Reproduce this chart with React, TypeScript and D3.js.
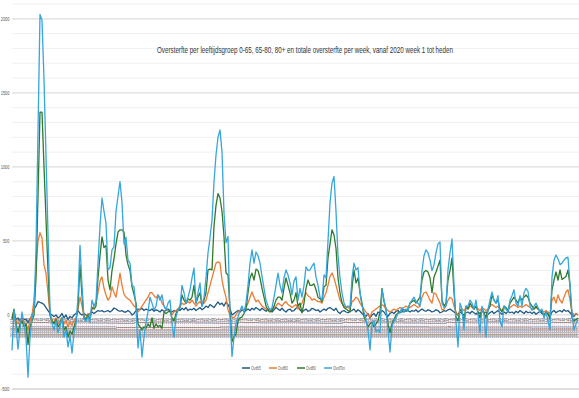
import React from "react";
import * as d3 from "d3";

const TITLE = "Oversterfte per leeftijdsgroep 0-65, 65-80, 80+ en totale oversterfte per week, vanaf 2020 week 1 tot heden";
const YEARS = [2020, 2021, 2022, 2023, 2024, 2025];
const WEEKS_PER_YEAR = [53, 52, 52, 52, 52, 23];
const Y_TICKS = [-500, 0, 500, 1000, 1500, 2000];
const SERIES_NAMES = ["Ovd65", "Ovd80", "Ovd80", "OvdTot"];
const SERIES_COLORS = ["#1f5a85", "#ef7b33", "#2f7a2c", "#36a6de"];

const ovd65 = [
  -20, 10, -30, -20, -40, -20, -30, -30, -50, -30,
  0, 40, 60, 90, 85, 80, 70, 50, 30, 10,
  0, -10, 0, -20, -10, 10, -20, 0, -30, -10,
  -20, 0, 10, 30, 10, 0, 10, 0, -10, 10,
  20, 10, 20, 30, 25, 30, 20, 25, 30, 20,
  30, 47, 40, 30, 25, 30, 20, 20, 30, 20,
  0, 10, 30, 40, 35, 45, 30, 40, 35, 30,
  40, 25, 35, 30, 20, 35, 25, 30, 40, 30,
  20, 30, 25, 40, 30, 45, 35, 50, 30, 40,
  35, 45, 30, 40, 50, 35, 45, 60, 50, 70,
  60, 50, 70, 88, 70, 80, 60, 88, 70, 40,
  0, 10, 20, 30, 20, 35, 25, 30, 40, 30,
  45, 35, 50, 40, 30, 45, 35, 25, 40, 30,
  20, 35, 50, 40, 30, 45, 30, 20, 35, 40,
  25, 30, 45, 54, 35, 20, 30, 40, 25, 30,
  45, 40, 30, 35, 20, 30, 40, 30, 45, 50,
  40, 30, 45, 20, 10, 25, 30, 20, 15, 25,
  30, 40, 20, 35, 25, 10, 0, -10, 10, -20,
  0, 10, -10, 20, 10, 30, 20, 0, -10, 10,
  20, 10, 25, 30, 15, 20, 35, 25, 30, 20,
  30, 25, 35, 20, 30, 40, 30, 25, 35, 30,
  20, 25, 35, 30, 15, 20, 30, 25, 35, 40,
  30, 20, 10, 0, 20, 10, 0, 15, 20, 10,
  25, 15, 5, 20, 10, 25, 15, 20, 5, 15,
  25, 10, 20, 30, 15, 5, 20, 10, 25, 15,
  20, 10, 25, 15, 30, 20, 10, 25, 15, 20,
  10, 20, 5, 15, 25, 10, 0, 15, 5, -10,
  20, 30, 15, 25, 30, 20, 35, 25, 30, 15,
  0, -10, 10, 0,
];

const ovd80 = [
  -10, 30, -40, -60, -40, -30, -50, -60, -100, -40,
  0, 100, 300, 500, 555, 520, 340, 280, 150, 0,
  -40, -50, -20, -60, -40, -20, -60, -40, -80, -50,
  -70, -40, -20, 40, 120, 60, -10, -20, 10, 0,
  40, 60, 80, 150, 230, 257, 180, 135, 100, 120,
  190, 150, 120, 200, 283, 200, 140, 120, 110, 100,
  80, 60, 50, 20, 40, 60, 80, 100, 120, 150,
  150, 130, 115, 135, 120, 80, 60, 40, 30, 20,
  0, 20, 30, 40, 60, 80, 70, 80, 90, 80,
  100, 80, 60, 80, 90, 70, 80, 100, 150, 200,
  250, 300, 350, 360, 350, 236, 170, 120, 34, 0,
  -14, -20, 0, 20, 30, 40, 30, 50, 80, 120,
  155, 120, 90, 100, 80, 60, 50, 40, 30, 30,
  40, 50, 60, 80, 70, 60, 80, 90, 70, 60,
  50, 60, 70, 40, 60, 80, 120, 150, 130, 120,
  100, 110, 100, 90, 90, 80, 120, 150, 200, 260,
  283, 250, 200, 150, 100, 80, 60, 50, 50, 40,
  90, 100, 120, 110, 80, 60, 40, 20, 0, -14,
  20, 30, 40, 50, 60, 70, 60, 40, 30, 20,
  30, 40, 30, 40, 50, 40, 50, 60, 50, 50,
  60, 70, 60, 50, 60, 120, 150, 155, 130, 100,
  80, 150, 140, 110, 80, 34, 40, 60, 100, 120,
  110, 60, 20, 0, 30, 40, 30, 50, 40, 60,
  50, 40, 60, 40, 30, 50, 40, 30, 40, 60,
  70, 60, 50, 60, 40, 30, 50, 40, 30, 50,
  60, 70, 60, 50, 60, 50, 60, 70, 60, 50,
  40, 40, 50, 40, 30, 30, 20, 30, 20, 10,
  100, 120, 80, 135, 100, 80, 120, 155, 170, 100,
  20, 0, 10, 0,
];

const ovd80plus = [
  -30, 40, -60, -120, -60, -40, -80, -60, -200, -80,
  -40, 0, 250, 800, 1370, 1370, 1000, 650, 300, 0,
  -40, -60, -30, -80, -60, -20, -100, -80, -150, -110,
  -130, -80, -40, 60, 338, 130, -20, -30, 0, -30,
  50, 40, 60, 250, 400, 527, 455, 470, 237, 170,
  300, 380, 480, 560, 575, 575, 560, 405, 340, 300,
  190, 140, 80, -60, -80, -100, -80, -90, -60, -80,
  -20, -90, -60, -80, -70, -90, 20, 10, 20, 30,
  -20, -40, 10, 30, 50, 135, 100, 80, 110, 100,
  120, 200, 80, 120, 150, 60, 100, 150, 304, 310,
  304, 600, 740, 820, 790, 700, 530, 283, 270, 34,
  -180, -150, -130, -40, -20, -14, 10, 40, 150, 250,
  283, 236, 310, 300, 250, 180, 120, 60, 30, 20,
  30, 60, 100, 120, 120, 100, 180, 250, 200, 150,
  80, 100, 150, 60, 80, 14, 80, 180, 236, 200,
  200, 210, 170, 120, 110, 90, 190, 200, 385, 480,
  575, 540, 450, 250, 150, 80, 50, 40, 30, 20,
  180, 304, 216, 250, 150, 80, -14, -40, -80, -60,
  -50, -80, -60, -40, 20, 180, 90, 40, -60, -120,
  -60, -30, 0, 14, 20, 40, 20, 30, 40, 80,
  90, 100, 80, 100, 120, 236, 290, 300, 290, 250,
  150, 257, 290, 330, 370, 100, 60, 80, 236, 300,
  385, 150, -14, -40, 40, 20, -40, 60, 40, 80,
  60, 40, 60, 20, -20, 40, 20, -20, 30, 60,
  135, 100, 80, 100, 40, 20, 60, 50, 30, 80,
  100, 120, 100, 80, 120, 100, 120, 135, 120, 80,
  60, 40, 60, 40, 30, 20, 0, 20, 10, -30,
  170, 236, 290, 236, 304, 240, 250, 260, 304, 200,
  -20, -40, -30, -20,
];

const ovdTot = [
  -240, 30, -80, -230, -100, 20, -60, -150, -420, -150,
  -20, 40, 440, 1240, 2030, 1990, 1590, 1070, 550, 30,
  -60, -100, -40, -120, -80, -20, -150, -100, -216, -140,
  -257, -120, -60, 120, 470, 200, -30, -40, -10, -50,
  100, 60, 90, 350, 600, 790, 700, 620, 304, 320,
  440, 460, 700, 800, 900, 760, 480, 525, 370, 350,
  200, 190, 50, -223, -100, -284, -150, -50, 20, 120,
  80, 34, 60, 135, 100, 135, 60, 34, 80, 100,
  -60, -150, -14, 34, 60, 200, 150, 80, 120, 170,
  250, 317, 80, 150, 216, 60, 120, 250, 420, 520,
  640, 900, 1080, 1200, 1250, 1100, 690, 487, 530, -14,
  -280, -150, -60, -14, 30, 60, 20, 80, 200, 350,
  440, 350, 425, 400, 350, 260, 180, 100, 60, 34,
  50, 120, 200, 283, 200, 150, 250, 304, 270, 216,
  135, 230, 257, 100, 180, 120, 200, 325, 300, 304,
  330, 350, 257, 200, 120, 100, 270, 250, 500, 757,
  890, 935, 700, 400, 250, 150, 80, 54, 60, 54,
  250, 350, 304, 320, 150, 60, 20, -34, -100, -236,
  -60, -40, -115, -100, -120, 170, 100, 40, -100, -250,
  -80, -40, -20, 10, 14, 50, 20, 40, 30, 80,
  100, 120, 90, 80, 60, 300, 400, 440, 420, 370,
  300, 338, 420, 480, 493, 80, 50, 60, 304, 420,
  513, 200, -50, -216, 80, 40, -100, 60, 60, 100,
  80, 40, 100, 0, -120, 60, 0, -150, 40, 100,
  155, 100, 80, 130, -40, -80, 60, 40, 20, 100,
  130, 170, 80, 60, 130, 60, 150, 180, 160, 60,
  30, 60, 80, 50, 20, 40, -20, 20, -40, -100,
  257, 370, 405, 380, 340, 350, 370, 385, 390, 200,
  14, -100, -60, -30,
];

const SERIES = [ovd65, ovd80, ovd80plus, ovdTot];

const WEEK_LABELS: string[] = [];
YEARS.forEach((yr, k) => {
  for (let w = 1; w <= WEEKS_PER_YEAR[k]; w++) {
    WEEK_LABELS.push(`${yr}-${String(w).padStart(2, "0")}`);
  }
});

const W = 579;
const H = 398;
const FONT = "'Liberation Sans', Arial, sans-serif";

export default function App() {
  const x = d3.scalePoint<string>().domain(WEEK_LABELS).range([12, 578]);
  const y = d3.scaleLinear().domain([-500, 2100]).range([389, 4]);
  const grid = d3.range(-500, 2101, 100);
  const line = d3
    .line<number>()
    .x((_, i) => x(WEEK_LABELS[i]) as number)
    .y((d) => y(d));

  const legendX = [242, 269, 297, 324];

  return (
    <svg
      width={W}
      height={H}
      style={{ position: "absolute", left: 0, top: 0, background: "#fff" }}
      fontFamily={FONT}
    >
      <rect x={0} y={0} width={W} height={H} fill="#fff" />
      {grid.map((v) => {
        const major = v % 500 === 0;
        return (
          <line
            key={v}
            x1={12}
            x2={579}
            y1={y(v)}
            y2={y(v)}
            stroke={v === -500 ? "#d4d4d4" : major ? "#dedede" : "#f0f0f0"}
            strokeWidth={v === -500 ? 1.6 : major ? 1.2 : 1}
          />
        );
      })}
      {Y_TICKS.map((v) => {
        const s = String(v);
        return (
          <text
            key={v}
            x={9.5}
            y={y(v) + 2.2}
            fontSize={6}
            fill="#595959"
            textAnchor="end"
            textLength={s.length * 2.2}
            lengthAdjust="spacingAndGlyphs"
          >
            {s}
          </text>
        );
      })}
      {WEEK_LABELS.map((lab) => {
        const px = x(lab) as number;
        return (
          <text
            key={lab}
            transform={`translate(${px + 0.9},${318}) rotate(-90)`}
            fontSize={2.8}
            fill="#6e6e6e"
            textAnchor="end"
            textLength={20}
            lengthAdjust="spacingAndGlyphs"
          >
            {lab}
          </text>
        );
      })}
      <text
        x={305}
        y={53}
        fontSize={9.5}
        fill="#333333"
        textAnchor="middle"
        textLength={296}
        lengthAdjust="spacingAndGlyphs"
      >
        {TITLE}
      </text>
      {SERIES.map((s, k) => (
        <path
          key={k}
          d={line(s) || ""}
          fill="none"
          stroke={SERIES_COLORS[k]}
          strokeWidth={1.3}
          strokeLinejoin="round"
        />
      ))}
      {SERIES_NAMES.map((n, k) => (
        <g key={k}>
          <line
            x1={legendX[k]}
            x2={legendX[k] + 8}
            y1={368}
            y2={368}
            stroke={SERIES_COLORS[k]}
            strokeWidth={1.5}
          />
          <text
            x={legendX[k] + 9}
            y={369.9}
            fontSize={5.2}
            fill="#595959"
            textLength={n.length * 1.95}
            lengthAdjust="spacingAndGlyphs"
          >
            {n}
          </text>
        </g>
      ))}
    </svg>
  );
}
